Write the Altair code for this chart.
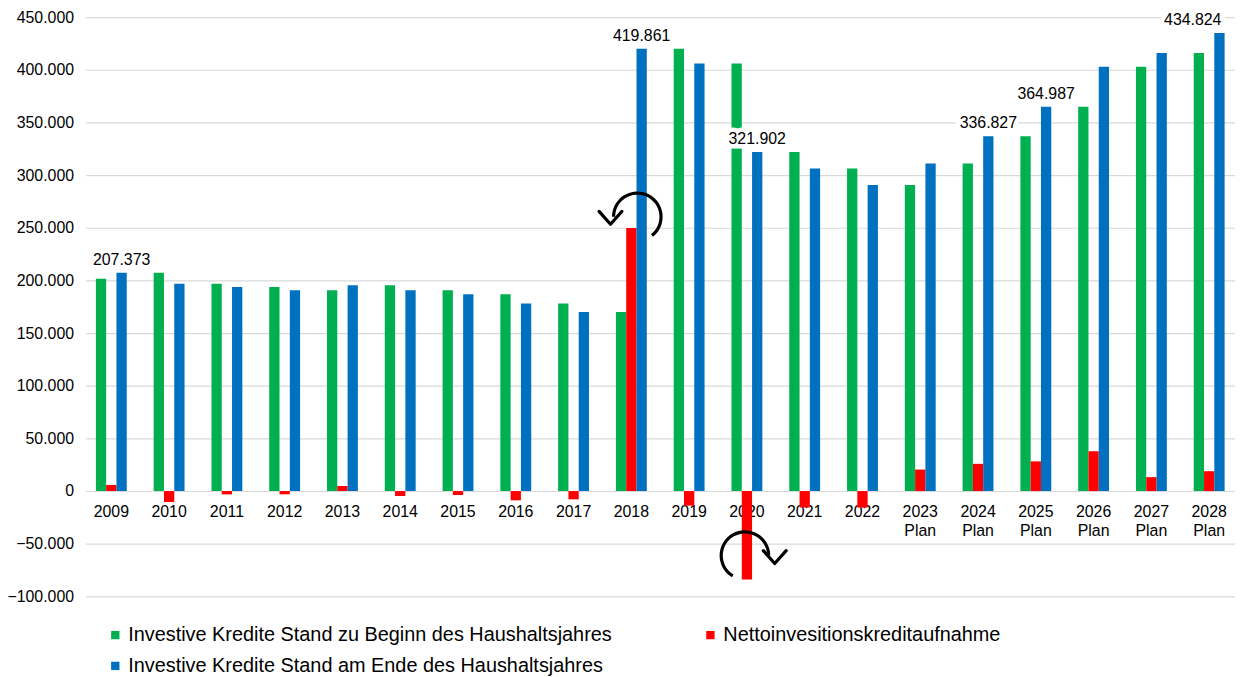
import altair as alt
import pandas as pd

years = ["2009", "2010", "2011", "2012", "2013", "2014", "2015", "2016", "2017", "2018",
         "2019", "2020", "2021", "2022", "2023 Plan", "2024 Plan", "2025 Plan", "2026 Plan",
         "2027 Plan", "2028 Plan"]
begin = [201600, 207373, 196900, 193700, 190600, 195300, 190600, 186800, 178000, 170100,
         419861, 406000, 321902, 306300, 290600, 311000, 336827, 364987, 402800, 416000]
net = [5773, -10473, -3200, -3100, 4700, -4700, -3800, -8800, -7900, 249761,
       -13861, -84098, -15602, -15700, 20400, 25827, 28160, 37813, 13200, 18824]
end = [207373, 196900, 193700, 190600, 195300, 190600, 186800, 178000, 170100, 419861,
       406000, 321902, 306300, 290600, 311000, 336827, 364987, 402800, 416000, 434824]

series_names = ["Investive Kredite Stand zu Beginn des Haushaltsjahres",
                "Nettoinvesitionskreditaufnahme",
                "Investive Kredite Stand am Ende des Haushaltsjahres"]
series_colors = ["#00b050", "#ff0000", "#0070c0"]

label_years = ["2009", "2018", "2020", "2024 Plan", "2025 Plan"]
label_values = [207373, 419861, 321902, 336827, 364987]
last_label_year = ["2028 Plan"]
last_label_value = [434824]

# curved-arrow annotations (anchored to the red bars of 2018 and 2020)
arrow1_year = ["2018"]
arrow1_value = [260400]
arrow2_year = ["2020"]
arrow2_value = [-61300]

y_ticks = [-100000, -50000, 0, 50000, 100000, 150000, 200000, 250000, 300000, 350000, 400000, 450000]

rows = []
for name, vals in zip(series_names, [begin, net, end]):
    for yr, v in zip(years, vals):
        rows.append({"year": yr, "series": name, "value": v})
bars_df = pd.DataFrame(rows)

labels_df = pd.DataFrame({"year": label_years, "value": label_values, "series": series_names[2]})
last_df = pd.DataFrame({"year": last_label_year, "value": last_label_value, "series": series_names[2]})
arrow1_df = pd.DataFrame({"year": arrow1_year, "value": arrow1_value})
arrow2_df = pd.DataFrame({"year": arrow2_year, "value": arrow2_value})

FONT = "Liberation Sans"
fmt = "replace(format(datum.value, ','), ',', '.')"

x_enc = alt.X("year:N", sort=years,
              scale=alt.Scale(paddingInner=0.466, paddingOuter=0.18),
              axis=alt.Axis(title=None, labelAngle=0, domain=False, ticks=False,
                            labelExpr="split(datum.label, ' ')", labelFontSize=16,
                            labelFont=FONT, labelColor="#000000", labelPadding=13,
                            labelLineHeight=19, offset=-106, grid=False))
xoff_enc = alt.XOffset("series:N", scale=alt.Scale(domain=series_names, paddingInner=0, paddingOuter=0))
y_scale = alt.Scale(domain=[-100000, 450000], nice=False, zero=False)

bars = alt.Chart(bars_df).mark_bar().encode(
    x=x_enc,
    xOffset=xoff_enc,
    y=alt.Y("value:Q", scale=y_scale,
            axis=alt.Axis(title=None, values=y_ticks, labelExpr=fmt, domain=False, ticks=False,
                          labelFontSize=16, labelFont=FONT, labelColor="#000000",
                          labelPadding=12, gridColor="#d9d9d9", gridWidth=1.2)),
    color=alt.Color("series:N", scale=alt.Scale(domain=series_names, range=series_colors),
                    legend=alt.Legend(title=None, orient="none", legendX=20, legendY=612,
                                      columns=2, direction="horizontal", columnPadding=89,
                                      rowPadding=11, symbolType="square", symbolSize=70,
                                      labelFontSize=20, labelFont=FONT, labelColor="#000000",
                                      labelOffset=3, labelLimit=0, padding=0,
                                      symbolStrokeWidth=0)),
)

def text_layers(df, align, dx):
    base = alt.Chart(df).transform_calculate(txt=fmt).encode(
        x=alt.X("year:N", sort=years),
        xOffset=alt.XOffset("series:N"),
        y=alt.Y("value:Q"),
        text="txt:N",
    )
    halo = base.mark_text(baseline="bottom", align=align, dx=dx, dy=-5, fontSize=16, font=FONT,
                          color="white", stroke="white", strokeWidth=9)
    txt = base.mark_text(baseline="bottom", align=align, dx=dx, dy=-5, fontSize=16, font=FONT,
                         color="#000000")
    return [halo, txt]

def arrow_layers(df, theta, theta2, xoff, head_dx, head_dy):
    enc = dict(x=alt.X("year:N", sort=years), y=alt.Y("value:Q"))
    arc = alt.Chart(df).mark_arc(theta=theta, theta2=theta2, radius=25.5, radius2=22.3,
                                 color="#000000", xOffset=xoff).encode(**enc)
    head = alt.Chart(df).mark_point(shape="M-1,-0.56L0,0.56L1,-0.56", size=530, filled=False,
                                    stroke="#000000", strokeWidth=3.2, strokeCap="round",
                                    strokeJoin="round", opacity=1,
                                    xOffset=xoff + head_dx, yOffset=head_dy).encode(**enc)
    return [arc, head]

layers = [bars]
layers += text_layers(labels_df, "center", 0)
layers += text_layers(last_df, "right", 2)
layers += arrow_layers(arrow1_df, 4.71, 8.76, 6, -27, 1)
layers += arrow_layers(arrow2_df, 3.68, 7.85, -2, 30, 1.5)

chart = alt.layer(*layers).properties(
    width=1157, height=583,
    padding={"left": 78, "top": 7, "right": 0, "bottom": 79},
    autosize=alt.AutoSizeParams(type="none"),
).configure_view(stroke=None)

chart.save("out.html", embed_options={"renderer": "svg", "actions": False})
